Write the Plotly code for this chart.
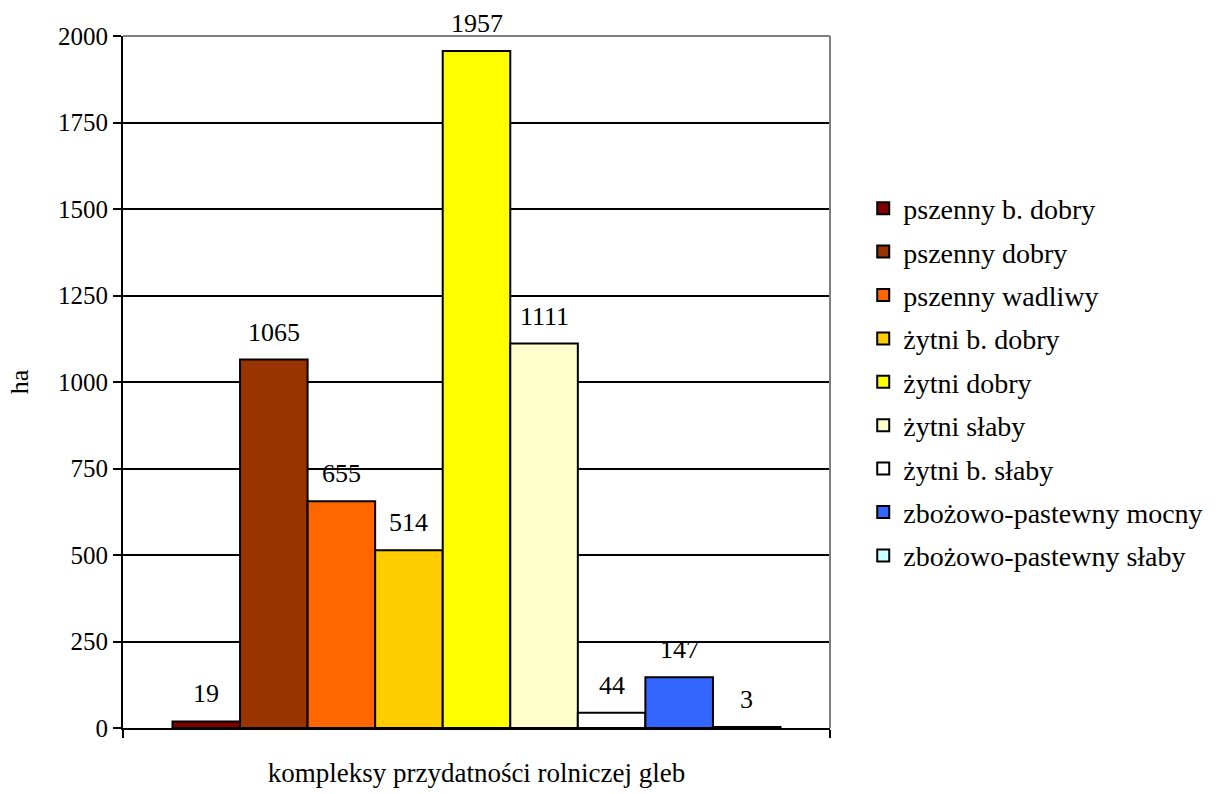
import plotly.graph_objects as go

# Soil agricultural suitability complexes and their area (ha)
complexes = [
    "pszenny b. dobry",
    "pszenny dobry",
    "pszenny wadliwy",
    "żytni b. dobry",
    "żytni dobry",
    "żytni słaby",
    "żytni b. słaby",
    "zbożowo-pastewny mocny",
    "zbożowo-pastewny słaby",
]
area_ha = [19, 1065, 655, 514, 1957, 1111, 44, 147, 3]
colors = ["#800000", "#993300", "#FF6600", "#FFCC00", "#FFFF00",
          "#FFFFCC", "#FFFFFF", "#3366FF", "#CCFFFF"]

y_ticks = [0, 250, 500, 750, 1000, 1250, 1500, 1750, 2000]

FONT = "'Times New Roman', 'Liberation Serif', 'DejaVu Serif', serif"
BARGAP = 0.14

fig = go.Figure()
for i, (name, val, col) in enumerate(zip(complexes, area_ha, colors)):
    fig.add_trace(go.Bar(
        x=[0], y=[val], name=name, legendgroup=name,
        marker=dict(color=col, line=dict(color="black", width=2)),
        hoverinfo="name+y",
    ))

# value labels above each bar of the group
n = len(area_ha)
group_w = 1 - BARGAP
for i, val in enumerate(area_ha):
    xc = -group_w / 2 + (i + 0.5) * group_w / n
    fig.add_annotation(x=xc, y=val, text=str(val), showarrow=False,
                       yanchor="bottom", yshift=11,
                       font=dict(family=FONT, size=26, color="black"))

# grey frame on the top and right of the plot area
fig.add_shape(type="line", xref="paper", yref="paper", x0=0, x1=1, y0=1, y1=1,
              line=dict(color="#808080", width=2))
fig.add_shape(type="line", xref="paper", yref="paper", x0=1, x1=1, y0=0, y1=1,
              line=dict(color="#808080", width=2))

fig.update_layout(
    width=1226, height=794,
    margin=dict(l=123, r=396, t=36, b=66),
    paper_bgcolor="white", plot_bgcolor="white",
    barmode="group", bargap=BARGAP, bargroupgap=0,
    font=dict(family=FONT, size=25, color="black"),
    showlegend=True,
    legend=dict(x=1.047, xanchor="left", y=0.5, yanchor="middle",
                tracegroupgap=4, font=dict(family=FONT, size=28),
                bgcolor="rgba(0,0,0,0)"),
    xaxis=dict(range=[-0.5, 0.5], tickvals=[-0.5, 0.5], showticklabels=False,
               ticks="outside", ticklen=8, tickwidth=2, tickcolor="black",
               showline=True, linecolor="black", linewidth=2,
               showgrid=False, zeroline=False, fixedrange=True,
               title=dict(text="kompleksy przydatności rolniczej gleb",
                          font=dict(family=FONT, size=27), standoff=26)),
    yaxis=dict(range=[0, 2000], tickvals=y_ticks,
               ticks="outside", ticklen=8, tickwidth=2, tickcolor="black",
               showline=True, linecolor="black", linewidth=2,
               showgrid=True, gridcolor="black", gridwidth=2,
               zeroline=False,
               tickfont=dict(family=FONT, size=25),
               title=dict(text="ha", font=dict(family=FONT, size=26),
                          standoff=22)),
)

fig.write_html("out.html")
